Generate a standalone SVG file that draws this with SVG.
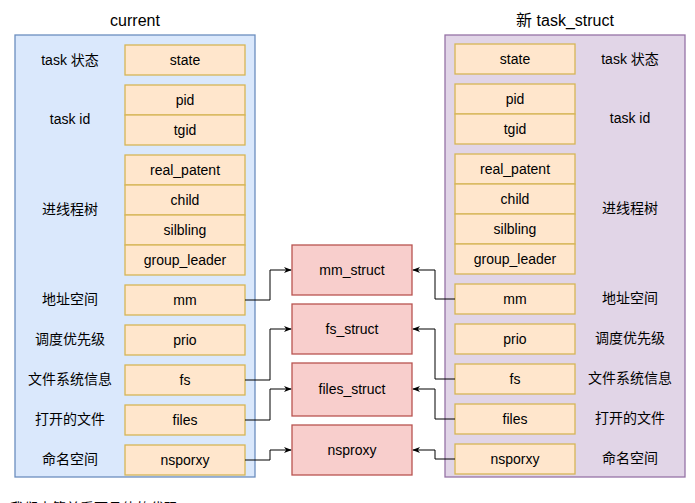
<svg xmlns="http://www.w3.org/2000/svg" width="695" height="503" viewBox="0 0 695 503">
<style>
text{font-family:"Liberation Sans","Noto Sans CJK SC",sans-serif;font-size:14px;fill:#000;text-anchor:middle;dominant-baseline:central}
.f{fill:#ffe6cc;stroke:#d6b656;stroke-width:1.3}
.s{fill:#f8cecc;stroke:#b85450;stroke-width:1.3}
.c path{fill:none;stroke:#000;stroke-width:1}
.t{font-size:16px}
</style>
<defs><marker id="a" viewBox="0 0 10 10" refX="9" refY="5" markerWidth="8" markerHeight="8" orient="auto"><path d="M0,1 L10,5 L0,9 L3,5z" fill="#000"/></marker></defs>
<rect x="15" y="35" width="240" height="442" fill="#dae8fc" stroke="#6c8ebf" stroke-width="1.3"/>
<rect x="445" y="35" width="240" height="442" fill="#e1d5e7" stroke="#9673a6" stroke-width="1.3"/>
<text class="t" x="135" y="20">current</text>
<text class="t" x="565" y="20">新 task_struct</text>
<g id="left">
<rect class="f" x="125" y="45" width="120" height="30"/><text x="185" y="60">state</text>
<rect class="f" x="125" y="85" width="120" height="30"/><text x="185" y="100">pid</text>
<rect class="f" x="125" y="115" width="120" height="30"/><text x="185" y="130">tgid</text>
<rect class="f" x="125" y="155" width="120" height="30"/><text x="185" y="170">real_patent</text>
<rect class="f" x="125" y="185" width="120" height="30"/><text x="185" y="200">child</text>
<rect class="f" x="125" y="215" width="120" height="30"/><text x="185" y="230">silbling</text>
<rect class="f" x="125" y="245" width="120" height="30"/><text x="185" y="260">group_leader</text>
<rect class="f" x="125" y="285" width="120" height="30"/><text x="185" y="300">mm</text>
<rect class="f" x="125" y="325" width="120" height="30"/><text x="185" y="340">prio</text>
<rect class="f" x="125" y="365" width="120" height="30"/><text x="185" y="380">fs</text>
<rect class="f" x="125" y="405" width="120" height="30"/><text x="185" y="420">files</text>
<rect class="f" x="125" y="445" width="120" height="30"/><text x="185" y="460">nsporxy</text>
<text x="70" y="60">task 状态</text><text x="70" y="119">task id</text><text x="70" y="209">进线程树</text>
<text x="70" y="299">地址空间</text><text x="70" y="339">调度优先级</text><text x="70" y="379">文件系统信息</text>
<text x="70" y="419">打开的文件</text><text x="70" y="459">命名空间</text>
</g>
<g id="right">
<rect class="f" x="455" y="44" width="120" height="30"/><text x="515" y="59">state</text>
<rect class="f" x="455" y="84" width="120" height="30"/><text x="515" y="99">pid</text>
<rect class="f" x="455" y="114" width="120" height="30"/><text x="515" y="129">tgid</text>
<rect class="f" x="455" y="154" width="120" height="30"/><text x="515" y="169">real_patent</text>
<rect class="f" x="455" y="184" width="120" height="30"/><text x="515" y="199">child</text>
<rect class="f" x="455" y="214" width="120" height="30"/><text x="515" y="229">silbling</text>
<rect class="f" x="455" y="244" width="120" height="30"/><text x="515" y="259">group_leader</text>
<rect class="f" x="455" y="284" width="120" height="30"/><text x="515" y="299">mm</text>
<rect class="f" x="455" y="324" width="120" height="30"/><text x="515" y="339">prio</text>
<rect class="f" x="455" y="364" width="120" height="30"/><text x="515" y="379">fs</text>
<rect class="f" x="455" y="404" width="120" height="30"/><text x="515" y="419">files</text>
<rect class="f" x="455" y="444" width="120" height="30"/><text x="515" y="459">nsporxy</text>
<text x="630" y="59">task 状态</text><text x="630" y="118">task id</text><text x="630" y="208">进线程树</text>
<text x="630" y="298">地址空间</text><text x="630" y="338">调度优先级</text><text x="630" y="378">文件系统信息</text>
<text x="630" y="418">打开的文件</text><text x="630" y="458">命名空间</text>
</g>
<g id="mm_struct"><rect class="s" x="292" y="245" width="120" height="50"/><text x="352" y="270">mm_struct</text></g>
<g id="fs_struct"><rect class="s" x="292" y="304" width="120" height="50"/><text x="352" y="329">fs_struct</text></g>
<g id="files_struct"><rect class="s" x="292" y="363" width="120" height="53"/><text x="352" y="389">files_struct</text></g>
<g id="nsproxy"><rect class="s" x="292" y="425" width="120" height="50"/><text x="352" y="450">nsproxy</text></g>
<g class="c" id="connectors">
<path d="M245,300H270V270H291" marker-end="url(#a)"/>
<path d="M245,380H270V329H291" marker-end="url(#a)"/>
<path d="M245,420H270V389H291" marker-end="url(#a)"/>
<path d="M245,460H270V450H291" marker-end="url(#a)"/>
<path d="M455,299H435V270H413" marker-end="url(#a)"/>
<path d="M455,379H435V329H413" marker-end="url(#a)"/>
<path d="M455,419H435V389H413" marker-end="url(#a)"/>
<path d="M455,459H435V450H413" marker-end="url(#a)"/>
</g>
<text x="10" y="508" style="text-anchor:start">我们来简单看下具体的代码</text>
</svg>
